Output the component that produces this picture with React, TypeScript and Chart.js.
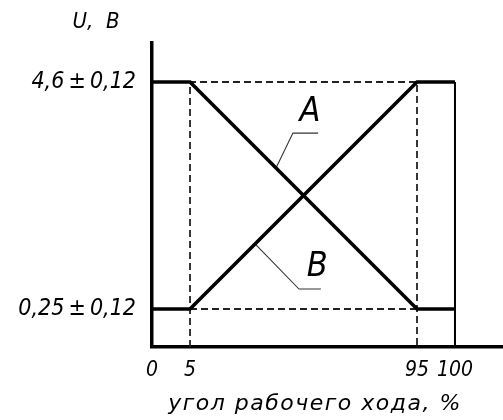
import React, { useEffect, useRef } from 'react';
import { Chart, LinearScale, registerables } from 'chart.js';

// ---- data ----
const X_VALUES = [0, 5, 95, 100];
const SERIES_A = [4.6, 4.6, 0.25, 0.25];
const SERIES_B = [0.25, 0.25, 4.6, 4.6];
const X_TICKS = [0, 5, 95, 100];
const X_TICK_LABELS = ['0', '5', '95', '100'];
const Y_TICKS = [0.25, 4.6];
const Y_TICK_LABELS = ['0,25\u2009±\u20090,12', '4,6\u2009±\u20090,12'];
const LOW = 0.25;
const HIGH = 4.6;
const X_START = 5;
const X_END = 95;
const X_FULL = 100;
const Y_MIN = -0.478;
const Y_MAX = 5.347;
const X_MIN = 0;
const X_MAX = 107;
// leader lines for curve names (data coordinates)
const LEADER_A_X = [39.1, 45.8, 55.8];
const LEADER_A_Y = [2.952, 3.62, 3.62];
const LEADER_B_X = [30.8, 48.2, 56.9];
const LEADER_B_Y = [1.497, 0.633, 0.633];
const CURVE_NAMES = ['A', 'B'];
const CURVE_NAME_X = [52.6, 55.4];
const CURVE_NAME_Y = [4.03, 1.05];
const Y_AXIS_NAME = 'U,  B';
const X_AXIS_NAME = 'угол рабочего хода, %';

// schematic (non-uniform) x axis: value knots -> fraction of axis length
const X_WARP_VALUES = [0, 5, 95, 100, 107];
const X_WARP_FRACS = [0, 0.1083, 0.755, 0.8632, 1];

const FAMILY = '"DejaVu Sans Condensed", "DejaVu Sans", sans-serif';
const WIDE_FAMILY = '"DejaVu Sans", sans-serif';

function interp(v: number, xs: number[], ys: number[]): number {
  const n = xs.length;
  let i = 1;
  while (i < n - 1 && v > xs[i]) i++;
  const t = (v - xs[i - 1]) / (xs[i] - xs[i - 1]);
  return ys[i - 1] + t * (ys[i] - ys[i - 1]);
}

class WarpScale extends LinearScale {
  static id = 'warp';
  getPixelForValue(value: number) {
    return this.getPixelForDecimal(interp(value, X_WARP_VALUES, X_WARP_FRACS));
  }
  getValueForPixel(pixel: number) {
    return interp(this.getDecimalForPixel(pixel), X_WARP_FRACS, X_WARP_VALUES);
  }
}

Chart.register(...registerables, WarpScale as any);

const pts = (xs: number[], ys: number[]) => xs.map((x, i) => ({ x, y: ys[i] }));

const annotate = {
  id: 'annotate',
  afterDraw(chart: any) {
    const { ctx, chartArea } = chart;
    const x = chart.scales.x;
    const y = chart.scales.y;
    ctx.save();
    ctx.fillStyle = '#000';
    ctx.textAlign = 'center';
    ctx.textBaseline = 'middle';
    ctx.font = `italic 34px ${FAMILY}`;
    CURVE_NAMES.forEach((n, i) => {
      ctx.fillText(n, x.getPixelForValue(CURVE_NAME_X[i]), y.getPixelForValue(CURVE_NAME_Y[i]));
    });
    ctx.font = `italic 22px ${FAMILY}`;
    ctx.fillText(Y_AXIS_NAME, chartArea.left - 56, chartArea.top - 21);
    ctx.font = `italic 22px ${WIDE_FAMILY}`;
    try { (ctx as any).letterSpacing = '1.5px'; } catch (e) {}
    ctx.fillText(X_AXIS_NAME, chartArea.left + 163, chartArea.bottom + 57);
    ctx.restore();
  },
};

export default function App() {
  const ref = useRef<HTMLCanvasElement>(null);
  useEffect(() => {
    document.body.style.margin = '0';
    const thick = { borderColor: '#000', borderWidth: 3.6, pointRadius: 0, borderJoinStyle: 'miter', fill: false };
    const dashed = { borderColor: '#222', borderWidth: 1.8, borderDash: [7, 4], pointRadius: 0, fill: false };
    const thin = { borderColor: '#333', borderWidth: 1.1, pointRadius: 0, fill: false };
    const chart = new Chart(ref.current!, {
      type: 'line',
      data: {
        datasets: [
          { ...thick, data: pts(X_VALUES, SERIES_A) },
          { ...thick, data: pts(X_VALUES, SERIES_B) },
          { ...thin, data: pts(LEADER_A_X, LEADER_A_Y) },
          { ...thin, data: pts(LEADER_B_X, LEADER_B_Y) },
          { ...thin, borderColor: '#000', borderWidth: 2, data: pts([X_FULL, X_FULL], [HIGH, Y_MIN]) },
          { ...dashed, data: pts([X_START, X_START, X_END, X_END], [Y_MIN, HIGH, HIGH, Y_MIN]) },
          { ...dashed, data: pts([X_START, X_END], [LOW, LOW]) },
        ] as any,
      },
      plugins: [annotate],
      options: {
        animation: false,
        responsive: true,
        maintainAspectRatio: false,
        layout: { padding: { top: 43, left: 0, right: 0, bottom: 0 } },
        plugins: { legend: { display: false }, tooltip: { enabled: false }, title: { display: false } },
        elements: { line: { tension: 0 } },
        scales: {
          x: {
            type: 'warp' as any,
            min: X_MIN,
            max: X_MAX,
            afterBuildTicks: (s: any) => { s.ticks = X_TICKS.map((v) => ({ value: v })); },
            afterFit: (s: any) => { s.height = 73; },
            grid: { display: false, drawTicks: false },
            border: { display: true, width: 3.5, color: '#000' },
            ticks: {
              autoSkip: false,
              maxRotation: 0,
              padding: 11,
              color: '#000',
              font: { family: FAMILY, size: 21, style: 'italic' },
              callback: (_v: any, i: number) => X_TICK_LABELS[i],
            },
          },
          y: {
            type: 'linear',
            min: Y_MIN,
            max: Y_MAX,
            afterBuildTicks: (s: any) => { s.ticks = Y_TICKS.map((v) => ({ value: v })); },
            afterFit: (s: any) => { s.width = 152; },
            grid: { display: false, drawTicks: false },
            border: { display: true, width: 3.5, color: '#000' },
            ticks: {
              autoSkip: false,
              padding: 16,
              color: '#000',
              font: { family: FAMILY, size: 23, style: 'italic' },
              callback: (_v: any, i: number) => Y_TICK_LABELS[i],
            },
          },
        },
      } as any,
    });
    return () => chart.destroy();
  }, []);
  return (
    <div style={{ position: 'absolute', left: 0, top: 0, width: 503, height: 420, background: '#fff' }}>
      <canvas ref={ref} />
    </div>
  );
}
